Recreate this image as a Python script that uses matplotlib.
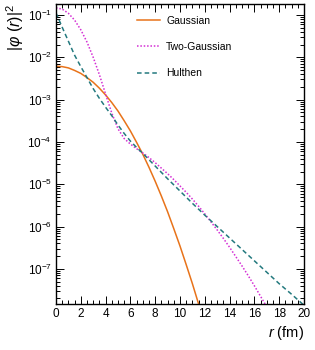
import numpy as np
import matplotlib
matplotlib.use("Agg")
import matplotlib.pyplot as plt

plt.rcParams['font.family'] = ['Liberation Sans', 'DejaVu Sans']
plt.rcParams['mathtext.fontset'] = 'custom'
plt.rcParams['mathtext.rm'] = 'Liberation Sans'
plt.rcParams['mathtext.it'] = 'Liberation Sans:italic'

# values (log10 of |phi(r)|^2)
r_gauss = [0, 0.5, 1, 1.5, 2, 2.5, 3, 3.5, 4, 4.5, 5, 5.5, 6, 6.5, 7, 7.5,
           8, 8.5, 9, 9.5, 10, 10.5, 11, 11.5, 12]
gauss_log10 = [-2.21, -2.22, -2.25, -2.31, -2.38, -2.48, -2.59, -2.73, -2.89,
               -3.07, -3.27, -3.50, -3.74, -4.01, -4.29, -4.60, -4.93, -5.28,
               -5.65, -6.05, -6.46, -6.90, -7.35, -7.83, -8.33]

r_two = [0, 0.5, 1, 1.5, 2, 2.5, 3, 3.5, 4, 4.5, 5, 5.5, 6, 6.5, 7, 7.5, 8,
         8.5, 9, 9.5, 10, 10.5, 11, 11.5, 12, 12.5, 13, 13.5, 14, 14.5, 15,
         15.5, 16, 16.5, 17]
two_log10 = [-0.83, -0.86, -0.96, -1.12, -1.35, -1.64, -2.00, -2.41, -2.87,
             -3.32, -3.69, -3.92, -4.05, -4.16, -4.26, -4.37, -4.49, -4.62,
             -4.75, -4.89, -5.04, -5.19, -5.35, -5.52, -5.70, -5.89, -6.08,
             -6.28, -6.49, -6.71, -6.93, -7.16, -7.40, -7.65, -7.90]

r_hul = [0, 0.5, 1, 1.5, 2, 2.5, 3, 3.5, 4, 4.5, 5, 5.5, 6, 6.5, 7, 8, 9,
         10, 11, 12, 13, 14, 15, 16, 17, 18, 19, 20]
hul_log10 = [-0.95, -1.29, -1.62, -1.95, -2.22, -2.48, -2.74, -2.97, -3.18,
             -3.38, -3.60, -3.80, -3.98, -4.13, -4.27, -4.57, -4.87, -5.16,
             -5.45, -5.73, -6.00, -6.27, -6.54, -6.81, -7.08, -7.35, -7.60,
             -7.86]

labels = ['Gaussian', 'Two-Gaussian', 'Hulthen']
colors = ['#E8731A', '#D42ED4', '#23797E']

fig = plt.figure(figsize=(3.15, 3.5), dpi=100)
ax = fig.add_axes([56 / 315, 1 - 304 / 350, 248 / 315, 300 / 350])

ax.plot(r_gauss, 10 ** np.array(gauss_log10), color=colors[0], lw=1.1,
        label=labels[0])
ax.plot(r_two, 10 ** np.array(two_log10), color=colors[1], lw=1.1,
        ls=(0, (1, 1.2)), label=labels[1])
ax.plot(r_hul, 10 ** np.array(hul_log10), color=colors[2], lw=1.1,
        ls=(0, (3, 2)), label=labels[2])

ax.set_yscale('log')
ax.set_xlim(0, 20)
ax.set_ylim(1.48e-8, 0.182)
ax.set_xticks(np.arange(0, 21, 2))
ax.set_xticks(np.arange(0, 20.01, 0.5), minor=True)

for s in ax.spines.values():
    s.set_linewidth(1.0)
ax.tick_params(which='both', direction='in', top=True, right=True,
               labelsize=8.5, width=0.7, pad=3)
ax.tick_params(which='major', length=6)
ax.tick_params(which='minor', length=3)

ax.set_xlabel(r'$r$ (fm)', fontsize=10.5, loc='right', labelpad=3)
ax.set_ylabel(r'$|\varphi\ (r)|^2$', fontsize=11.5, loc='top', labelpad=1)

ax.legend(frameon=False, loc='upper left',
          bbox_to_anchor=(137 / 315, 1 - 16 / 350),
          bbox_transform=fig.transFigure, fontsize=7.5, handlelength=2.2,
          handletextpad=0.6, labelspacing=1.55, borderpad=0, borderaxespad=0)

fig.savefig('out.png', dpi=100)
